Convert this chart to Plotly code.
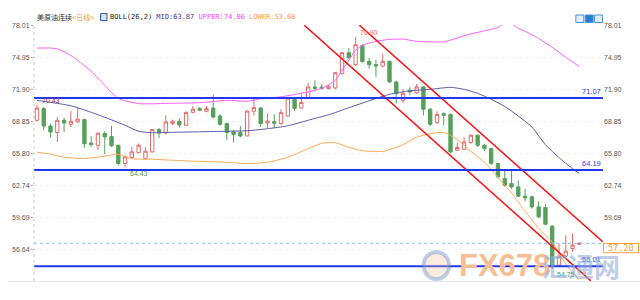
import plotly.graph_objects as go

# ---------------- data ----------------
candle_idx = list(range(81))
opens = [68.94, 70.05, 68.39, 67.77, 68.94, 68.56, 68.78, 69.00, 66.77, 66.55,
         67.67, 67.38, 66.55, 64.81, 65.38, 65.85, 65.28, 65.92, 68.05, 67.73,
         68.62, 68.84, 68.46, 69.70, 70.05, 69.80, 70.11, 69.34, 68.62, 67.82,
         67.77, 67.44, 69.80, 70.11, 68.68, 68.81, 68.62, 69.34, 70.94, 70.11,
         71.06, 72.12, 72.10, 71.96, 72.02, 73.39, 75.39, 74.25, 76.07, 74.56,
         74.25, 74.11, 74.56, 72.59, 70.84, 71.80, 71.55, 72.12, 69.99, 68.72,
         69.57, 69.48, 66.08, 66.17, 66.81, 67.51, 66.55, 66.24, 64.81, 63.38,
         62.90, 62.58, 61.69, 61.63, 60.67, 60.61, 58.83, 55.11, 55.97, 56.70,
         57.10]
highs = [70.43, 70.20, 68.62, 69.25, 69.20, 69.80, 70.11, 69.10, 67.40, 67.80,
         67.90, 68.40, 66.60, 65.60, 66.40, 66.72, 66.40, 68.10, 68.20, 69.41,
         69.00, 69.10, 69.80, 70.30, 70.20, 70.30, 71.40, 69.50, 68.70, 68.00,
         68.40, 69.90, 71.16, 70.20, 69.60, 69.50, 70.00, 71.10, 71.00, 71.40,
         72.50, 72.75, 72.40, 72.30, 73.55, 75.45, 75.83, 76.90, 76.20, 74.90,
         74.70, 75.30, 74.65, 72.70, 71.90, 72.10, 72.40, 72.20, 70.10, 69.80,
         69.70, 69.60, 66.80, 67.30, 67.60, 67.60, 66.70, 66.30, 64.90, 64.17,
         64.17, 63.20, 62.40, 61.75, 61.20, 60.90, 58.95, 57.18, 57.97, 58.14,
         57.25]
lows = [68.80, 67.98, 67.29, 66.87, 67.82, 68.30, 68.70, 66.30, 66.40, 66.10,
        65.70, 66.40, 64.60, 64.43, 65.30, 65.80, 65.20, 65.85, 67.22, 67.60,
        68.50, 68.24, 68.40, 69.60, 69.80, 69.70, 69.10, 68.40, 67.04, 66.81,
        67.30, 67.40, 69.40, 68.30, 68.20, 68.20, 68.50, 69.30, 69.80, 70.05,
        71.00, 71.70, 71.90, 71.90, 71.90, 73.30, 74.80, 74.10, 74.40, 73.87,
        73.07, 74.00, 72.50, 70.52, 70.60, 71.30, 71.45, 69.40, 68.40, 68.60,
        68.46, 65.80, 66.00, 66.10, 66.70, 66.40, 66.00, 64.70, 63.40, 62.60,
        62.40, 61.60, 61.20, 60.50, 59.60, 59.00, 54.75, 55.00, 55.90, 56.40,
        57.05]
closes = [70.11, 68.39, 67.82, 68.94, 68.68, 68.84, 69.05, 66.70, 66.62, 67.70,
          67.35, 66.50, 64.81, 65.44, 65.92, 66.55, 65.98, 68.05, 67.73, 68.78,
          68.84, 68.50, 69.67, 70.00, 69.90, 70.05, 69.25, 68.56, 67.77, 67.57,
          67.44, 69.82, 70.15, 68.62, 68.87, 68.65, 69.67, 71.06, 70.05, 70.63,
          72.12, 71.96, 71.98, 72.18, 73.48, 75.39, 74.91, 76.15, 74.54, 74.25,
          74.11, 74.56, 72.59, 71.48, 71.48, 71.64, 72.12, 69.99, 68.56, 69.50,
          69.41, 65.92, 66.34, 66.87, 67.51, 66.55, 66.24, 64.81, 63.54, 62.74,
          62.58, 61.69, 61.53, 60.67, 59.72, 59.02, 54.95, 55.97, 56.45, 57.02,
          57.20]

upper_idx = [0, 2, 3, 5, 6, 8, 10, 12, 15, 20, 24, 28, 31, 33, 36, 40, 42, 44, 45,
             46, 47, 48, 50, 52, 54, 56, 58, 60, 62, 64, 66, 68, 69, 70, 71, 72,
             74, 76, 78, 80]
upper_val = [75.83, 75.83, 75.75, 75.13, 74.66, 73.61, 72.27, 71.03, 70.53, 70.56,
             70.61, 70.84, 70.75, 70.99, 71.18, 71.65, 71.99, 72.75, 73.70, 74.66,
             75.61, 76.09, 76.47, 76.66, 76.68, 76.47, 76.42, 76.42, 76.80, 77.18,
             77.47, 77.80, 78.20, 78.15, 77.71, 77.42, 76.75, 75.90, 74.94, 74.06]

mid_idx = [0, 2, 5, 8, 11, 13, 15, 17, 20, 24, 28, 31, 34, 37, 40, 43, 46, 49, 52,
           55, 58, 61, 63, 65, 67, 69, 71, 73, 75, 77, 79, 80]
mid_val = [70.84, 70.65, 70.32, 69.70, 68.98, 68.46, 67.89, 67.75, 67.79, 67.84,
           67.89, 67.94, 68.13, 68.41, 68.94, 69.46, 70.13, 70.80, 71.42, 71.75,
           71.89, 72.08, 71.89, 71.51, 70.94, 70.25, 69.34, 68.30, 66.60, 65.38,
           64.31, 63.87]

lower_idx = [0, 2, 4, 7, 10, 12, 14, 17, 22, 27, 31, 34, 37, 40, 42, 44, 46, 48,
             51, 54, 56, 58, 60, 62, 64, 66, 68, 70, 72, 74, 76, 78, 80]
lower_val = [65.89, 65.70, 65.41, 65.29, 65.51, 65.70, 65.27, 65.22, 65.06, 64.96,
             64.81, 64.93, 65.41, 66.22, 66.74, 66.79, 66.36, 66.03, 65.98, 66.60,
             67.32, 67.65, 67.79, 67.08, 65.98, 64.93, 63.50, 61.98, 60.26, 58.64,
             57.31, 55.21, 53.68]

# support / resistance levels and current price
levels = [71.07, 64.19, 55.01]
level_labels = ["71.07", "64.19", "55.01"]
last_price = 57.20

# channel trend lines: (candle index, value) end points
channel_lower = [(39.42, 78.01), (81.70, 53.61)]
channel_upper = [(47.56, 78.01), (83.45, 57.34)]

# marked extremes: (candle index, value, label, colour)
high_marks = [(0, 70.43, "70.43", "#8a3050"), (47, 76.90, "76.90", "#e87070")]
low_marks = [(13, 64.43, "64.43", "#4a9a5a"), (76, 54.75, "54.75", "#4a9a5a")]

ytick_vals = [56.64, 59.69, 62.74, 65.80, 68.85, 71.90, 74.95, 78.01]
ytick_text = ["56.64", "59.69", "62.74", "65.80", "68.85", "71.90", "74.95", "78.01"]

title_name = "美原油连续"
title_period = "&lt;日线&gt;"
boll_parts = [("BOLL(26,2) ", "#222222"), ("MID:63.87 ", "#3a3aa0"),
              ("UPPER:74.06 ", "#ff44ff"), ("LOWER:53.68", "#ff9933")]

# ---------------- layout geometry ----------------
W, H = 640, 300
L, R, T, B = 26, 37, 25, 19
PW, PH = W - L - R, H - T - B


def px(x):
    return (x - L) / PW


def py(y):
    return (H - B - y) / PH


YR = [53.60, 78.03]
XR = [-0.436, 83.49]

fig = go.Figure()

fig.add_trace(go.Candlestick(
    x=candle_idx, open=opens, high=highs, low=lows, close=closes,
    increasing=dict(line=dict(color="#e46a6a", width=1), fillcolor="#ffffff"),
    decreasing=dict(line=dict(color="#56a05a", width=1), fillcolor="#56a05a"),
    whiskerwidth=0, hoverinfo="skip", showlegend=False))

for xs, ys, col in [(upper_idx, upper_val, "#ff5cff"),
                    (mid_idx, mid_val, "#5a5aaa"),
                    (lower_idx, lower_val, "#ffaa55")]:
    fig.add_trace(go.Scatter(x=xs, y=ys, mode="lines",
                             line=dict(color=col, width=1, shape="spline", smoothing=0.6),
                             hoverinfo="skip", showlegend=False))

for ch in (channel_lower, channel_upper):
    fig.add_trace(go.Scatter(x=[p[0] for p in ch], y=[p[1] for p in ch], mode="lines",
                             line=dict(color="#ff1010", width=1.5),
                             hoverinfo="skip", showlegend=False))

# current price dotted line (on right axis)
fig.add_trace(go.Scatter(x=[XR[0], XR[1]], y=[last_price, last_price], mode="lines",
                         line=dict(color="#8cbcec", width=1, dash="dot"),
                         yaxis="y2", hoverinfo="skip", showlegend=False))

shapes = []
for lv in levels:
    shapes.append(dict(type="line", xref="paper", yref="y", x0=0, x1=1, y0=lv, y1=lv,
                       line=dict(color="#2336f0", width=2), layer="above"))
# left dotted axis
shapes.append(dict(type="line", xref="paper", yref="paper", x0=0, x1=0, y0=0, y1=1,
                   line=dict(color="#c4cedc", width=1, dash="dot")))
# bottom rule
shapes.append(dict(type="line", xref="paper", yref="paper", x0=px(0), x1=px(640),
                   y0=py(281.5), y1=py(281.5), line=dict(color="#e6e6e6", width=1)))
# price box
shapes.append(dict(type="rect", xref="paper", yref="paper", x0=px(603.5), x1=px(639),
                   y0=py(252.7), y1=py(243.5), line=dict(color="#ffa040", width=1),
                   fillcolor="#ffffff"))
# BOLL icon
shapes.append(dict(type="rect", xref="paper", yref="paper", x0=px(93.5), x1=px(100),
                   y0=py(20.5), y1=py(13.5), line=dict(color="#3355aa", width=1),
                   fillcolor="#d8e2f4"))
# top right tool icons
for (a, b, fc) in [(575.5, 583.5, "#e4eefa"), (585, 593, "#2a80d0"), (594.5, 602.5, "#e4eefa")]:
    shapes.append(dict(type="rect", xref="paper", yref="paper", x0=px(a), x1=px(b),
                       y0=py(22.5), y1=py(15), line=dict(color="#4a90d9", width=1),
                       fillcolor=fc))
# watermark logo ring
shapes.append(dict(type="circle", xref="paper", yref="paper", x0=px(421), x1=px(447),
                   y0=py(279), y1=py(252), line=dict(color="rgba(110,150,205,0.45)", width=4),
                   fillcolor="rgba(240,190,150,0.3)"))

ann = []
ann.append(dict(xref="paper", yref="paper", x=px(27), y=py(17), xanchor="left",
                yanchor="middle", showarrow=False,
                text=f'<span style="color:#333333">{title_name}</span>'
                     f'<span style="color:#f0a030">{title_period}</span>',
                font=dict(family="DejaVu Sans Mono, Noto Sans CJK SC", size=7)))
ann.append(dict(xref="paper", yref="paper", x=px(101.5), y=py(17), xanchor="left",
                yanchor="middle", showarrow=False,
                text="".join(f'<span style="color:{c}">{t.replace(" ", "&nbsp;")}</span>'
                             for t, c in boll_parts),
                font=dict(family="DejaVu Sans Mono", size=7)))
for lv, lab in zip(levels, level_labels):
    ann.append(dict(xref="paper", yref="y", x=1, y=lv, xanchor="right", yanchor="bottom",
                    yshift=0, showarrow=False, text=lab,
                    font=dict(family="Liberation Sans", size=7.5, color="#2a40ff")))
for (i, v, lab, col) in high_marks:
    ann.append(dict(xref="x", yref="y", x=i + 0.4, y=v, xanchor="left", yanchor="bottom",
                    yshift=-1, showarrow=False, text=lab,
                    font=dict(family="Liberation Sans", size=7, color=col)))
for (i, v, lab, col) in low_marks:
    ann.append(dict(xref="x", yref="y", x=i + 0.4, y=v, xanchor="left", yanchor="top",
                    yshift=0, showarrow=False, text=lab,
                    font=dict(family="Liberation Sans", size=7, color=col)))
ann.append(dict(xref="paper", yref="paper", x=px(621.2), y=py(248.2), xanchor="center",
                yanchor="middle", showarrow=False, text=f"{last_price:.2f}",
                font=dict(family="DejaVu Sans Mono", size=8.5, color="#ff9933")))
# watermark
ann.append(dict(xref="paper", yref="paper", x=px(455), y=py(265), xanchor="left",
                yanchor="middle", showarrow=False,
                text='<b><span style="color:#f7be96">FX678</span></b>',
                font=dict(family="Liberation Sans Narrow, Liberation Sans", size=31,
                          color="#f7be96")))
ann.append(dict(xref="paper", yref="paper", x=px(539), y=py(265), xanchor="left",
                yanchor="middle", showarrow=False, text="<b>汇通网</b>", opacity=0.6,
                font=dict(family="Noto Sans CJK SC", size=26, color="#93afd8")))

fig.update_layout(
    width=W, height=H, margin=dict(l=L, r=R, t=T, b=B),
    paper_bgcolor="#ffffff", plot_bgcolor="#ffffff",
    showlegend=False, shapes=shapes, annotations=ann,
    xaxis=dict(range=XR, showticklabels=False, showgrid=False, zeroline=False,
               showline=False, ticks="", rangeslider=dict(visible=False), fixedrange=True),
    yaxis=dict(range=YR, tickvals=ytick_vals, ticktext=ytick_text, ticks="outside",
               ticklen=2, tickcolor="#aaaaaa", showgrid=True, gridcolor="#f0f0f0",
               griddash="dot", zeroline=False, showline=False,
               tickfont=dict(family="Liberation Sans", size=7, color="#555555")),
    yaxis2=dict(range=YR, overlaying="y", side="right", tickvals=ytick_vals,
                ticktext=ytick_text, ticks="", showgrid=False, zeroline=False,
                showline=False,
                tickfont=dict(family="Liberation Sans", size=7, color="#555555")),
)

fig.write_html("out.html")
